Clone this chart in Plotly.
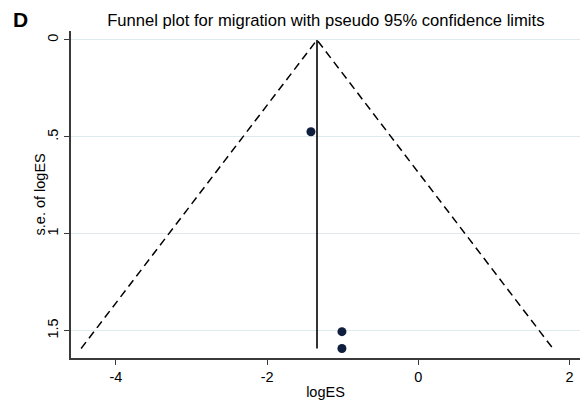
import plotly.graph_objects as go

# Study effect sizes (log scale) and their standard errors
log_es = [-1.42, -1.01, -1.01]
se_log_es = [0.474, 1.505, 1.592]
pooled_log_es = -1.34  # fixed-effect pooled estimate
z95 = 1.96

x_ticks = [-4, -2, 0, 2]
y_ticks = [0, 0.5, 1, 1.5]
y_tick_text = ["0", ".5", "1", "1.5"]

se_max = max(se_log_es)
font_family = "Liberation Sans, Arial, Helvetica, sans-serif"

fig = go.Figure()

# Pseudo 95% confidence limits
fig.add_trace(go.Scatter(
    x=[pooled_log_es - z95 * se_max, pooled_log_es, pooled_log_es + z95 * se_max],
    y=[se_max, 0, se_max],
    mode="lines",
    line=dict(color="black", width=1.5, dash="8px,5px"),
    hoverinfo="skip",
))

# Pooled estimate line
fig.add_trace(go.Scatter(
    x=[pooled_log_es, pooled_log_es],
    y=[0, se_max],
    mode="lines",
    line=dict(color="black", width=1.6),
    hoverinfo="skip",
))

# Studies
fig.add_trace(go.Scatter(
    x=log_es,
    y=se_log_es,
    mode="markers",
    marker=dict(color="#0f1e3f", size=9),
))

axis_common = dict(
    showline=True,
    linecolor="#3a3a3a",
    linewidth=1.5,
    ticks="outside",
    ticklen=5,
    tickwidth=1.2,
    tickcolor="#3a3a3a",
    zeroline=False,
    tickfont=dict(family=font_family, size=14.5, color="black"),
)

fig.update_layout(
    width=585,
    height=403,
    margin=dict(l=71, r=5, t=31, b=45),
    paper_bgcolor="white",
    plot_bgcolor="white",
    showlegend=False,
    font=dict(family=font_family, color="black"),
    title=dict(
        text="Funnel plot for migration with pseudo 95% confidence limits",
        font=dict(family=font_family, size=16.6, color="black"),
        x=0.557,
        xanchor="center",
        y=0.950,
        yanchor="middle",
    ),
    xaxis=dict(
        range=[-4.594, 2.139],
        tickvals=x_ticks,
        ticktext=[str(v) for v in x_ticks],
        showgrid=False,
        title=dict(text="logES", font=dict(family=font_family, size=14.5), standoff=3),
        **axis_common,
    ),
    yaxis=dict(
        range=[1.641, -0.046],
        tickvals=y_ticks,
        ticktext=y_tick_text,
        tickangle=-90,
        showgrid=True,
        gridcolor="#dfeaee",
        gridwidth=1,
        **axis_common,
    ),
    annotations=[
        dict(
            text="<b>D</b>",
            xref="paper", yref="paper",
            x=-0.118, y=1.034,
            xanchor="left", yanchor="middle",
            showarrow=False,
            font=dict(family=font_family, size=21, color="black"),
        ),
        dict(
            text="s.e. of logES",
            xref="paper", yref="paper",
            x=-0.061, y=0.5,
            xanchor="center", yanchor="middle",
            textangle=-90,
            showarrow=False,
            font=dict(family=font_family, size=14.5, color="black"),
        ),
    ],
)

fig.write_html("out.html")
